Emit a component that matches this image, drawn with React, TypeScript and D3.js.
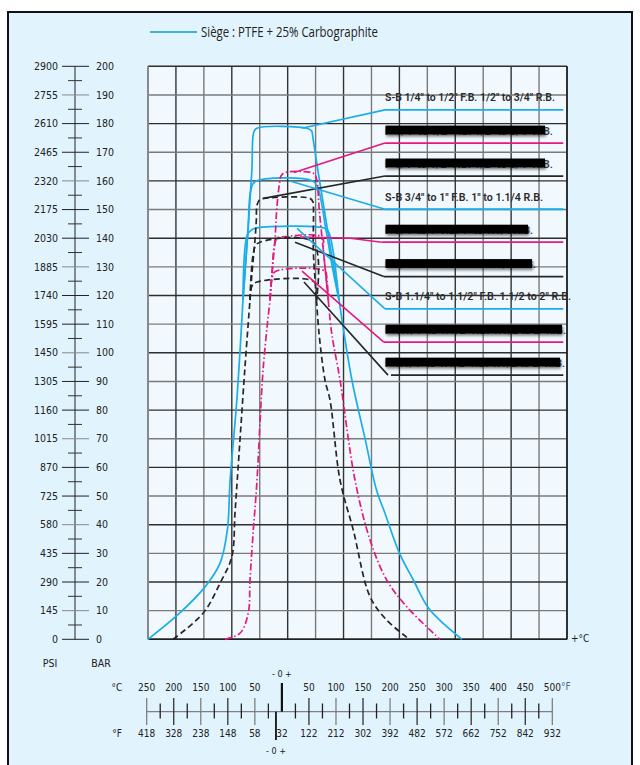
import React from 'react';
import * as d3 from 'd3';

// ---------- DATA ----------
const legendLabel = 'Siège : PTFE + 25% Carbographite';

const barTicks = [0, 10, 20, 30, 40, 50, 60, 70, 80, 90, 100, 110, 120, 130, 140, 150, 160, 170, 180, 190, 200];
const psiLabels = ['0', '145', '290', '435', '580', '725', '870', '1015', '1160', '1305', '1450', '1595', '1740', '1885', '2030', '2175', '2320', '2465', '2610', '2755', '2900'];

const tempGrid = [-250, -200, -150, -100, -50, 0, 50, 100, 150, 200, 250, 300, 350, 400, 450, 500];
const celsiusLabels = ['250', '200', '150', '100', '50', '', '50', '100', '150', '200', '250', '300', '350', '400', '450', '500'];
const fahrenheitLabels = ['418', '328', '238', '148', '58', '32', '122', '212', '302', '392', '482', '572', '662', '752', '842', '932'];
const fahrenheitZeroMark = -11;

// curves: [temperature °C, pressure bar]
const blueLeft = [[-250, 0], [-193, 9.2], [-148, 18.3], [-121, 26.6], [-108, 38.1], [-103, 55.6], [-91, 83.5], [-80, 118.4]];
const blueRight = [[92, 118.4], [115, 90.5], [139, 69.6], [159, 52.1], [174, 44.1], [200, 30.1], [225, 20.7], [252, 10.9], [280, 5.3], [312, 0]];
const blue1Top = [[-71, 142.9], [-64, 163.8], [-61, 176.7], [-56, 178.3], [36, 178.3], [43, 177.4], [45, 175.3], [54, 163.8]];
const blue2Top = [[-71, 142.9], [-66, 156.8], [-58.5, 159.7], [45, 160], [54, 157.6], [68.6, 142.9], [81, 128.9]];
const blue3Top = [[-72.3, 141.1], [-64.4, 142.9], [-60, 143.4], [66.8, 143.4], [74, 141.8], [81, 135.9], [88, 125.4]];

const pinkLeft = [[-112, 0], [-85, 2.2], [-70.5, 9.2], [-67.4, 20.7], [-61.5, 38.1], [-55.4, 53.9], [-43.6, 95.1], [-31.6, 118.4]];
const pinkRight = [[72.7, 118.4], [78.8, 106.9], [93.7, 90.5], [120.5, 55.6], [147.4, 34.7], [177.3, 20.7], [213, 11.4], [272.7, 0]];
const pink1Top = [[-28, 127.8], [-22.7, 139.4], [-19.7, 149.8], [-15, 158.6], [-12, 161.7], [-5, 162.9], [42, 162.9], [49, 162.1], [52.5, 160], [56.6, 149.8], [63.8, 135.9]];
const pink2Top = [[-28, 127.8], [-23.6, 137.6], [-18.2, 140.2], [-12, 140.4], [61.5, 140.4], [63.8, 135.9]];
const pink3Top = [[-27.5, 126.5], [-22, 128.4], [66.8, 128.5], [70.4, 125.4]];

const blackLeft = [[-205, 0], [-151, 9.2], [-121, 19.6], [-100, 28.8], [-94.3, 44.1], [-90.2, 55.6], [-76.4, 95.1], [-67.4, 118.4]];
const blackRight = [[51.6, 118.4], [56.1, 106.9], [66.8, 90.5], [75.8, 83.5], [93.7, 55.6], [117.5, 38.1], [147.4, 14.9], [177.3, 6.7], [216, 0.3]];
const black1Top = [[-64.4, 126.6], [-58.5, 139.4], [-56.1, 146.3], [-54.9, 151.6], [-49.5, 153.5], [-42.4, 153.9], [40, 153.9], [45.4, 152.6], [46.2, 149.8], [45.9, 135.9], [48.5, 127]];
const black2Top = [[-58.5, 137], [-49.5, 138.6], [45.5, 138.6]];
const black3Top = [[-63.5, 123.5], [-55, 124.7], [48, 124.7]];

// size labels
const labelTexts = [
  'S-B 1/4" to 1/2" F.B. 1/2" to 3/4" R.B.',
  'F-1/4" to 1/2" F.B. 1/2" to 3/4" R.B.',
  'F 1/4" to 1/2" F.B. 1/2" to 3/4" R.B.',
  'S-B 3/4" to 1" F.B. 1" to 1.1/4 R.B.',
  'F-3/4" to 1" F.B. 1" to 1.1/4 R.B.',
  'F 3/4" to 1" F.B. 1" to 1.1/4 R.B.',
  'S-B 1.1/4" to 1.1/2" F.B. 1.1/2 to 2" R.B.',
  'F-1.1/4" to 1.1/2" F.B. 1.1/2 to 2" R.B.',
  'F 1.1/4" to 1.1/2" F.B. 1.1/2 to 2" R.B.',
];
const labelHidden = [false, true, true, false, true, true, false, true, true];
const labelColors = ['blue', 'pink', 'black', 'blue', 'pink', 'black', 'blue', 'pink', 'black'];
const connectorStart = [[25.1, 178.4], [11.3, 162.9], [-43.6, 153.9], [4.2, 160], [22, 140.4], [13.1, 138.6], [16.7, 143.4], [25.7, 128.5], [29.2, 124.7]];
const connectorMid = [null, null, null, null, [112, 140], null, null, null, null];
const labelLineLevel = [184.8, 173.2, 161.7, 150.1, 138.6, 126.6, 115.3, 103.7, 92.2];
const labelLineStart = [174.2, 174.2, 174.2, 174.2, 168.3, 172, 174.2, 172, 179.6];
const labelLineEnd = 493.4;
const labelTextEnd = [555, 553, 553, 543, 533, 536, 571, 566, 565];
const hideBarEnd = [0, 545, 545, 0, 528, 532, 0, 562, 560];

// ---------- STYLE ----------
const COLORS: Record<string, string> = { blue: '#1badea', pink: '#e6197f', black: '#262626' };
const W = 640, H = 765;

export default function App() {
  const x = d3.scaleLinear().domain([-250, 500]).range([148, 567]);
  const y = d3.scaleLinear().domain([0, 200]).range([639.3, 66.3]);
  const xs = d3.scaleLinear().domain([-250, 500]).range([146.7, 552.3]);

  const line = d3.line<number[]>().x(d => x(d[0])).y(d => y(d[1])).curve(d3.curveCatmullRom.alpha(0.5));
  const straight = d3.line<number[]>().x(d => x(d[0])).y(d => y(d[1]));

  const last = (a: number[][]) => a[a.length - 1];
  const groups = [
    { c: 'blue', left: blueLeft, right: blueRight, tops: [blue1Top, blue2Top, blue3Top] },
    { c: 'pink', left: pinkLeft, right: pinkRight, tops: [pink1Top, pink2Top, pink3Top] },
    { c: 'black', left: blackLeft, right: blackRight, tops: [black1Top, black2Top, black3Top] },
  ];
  const dash: Record<string, string | undefined> = { blue: undefined, pink: '7,2.5,1.5,2.5', black: '6,3.5' };

  const numFont = "'Liberation Sans Narrow', 'DejaVu Sans Condensed', 'Liberation Sans', sans-serif";
  const labelFont = "Roboto, 'Liberation Sans', sans-serif";
  const minorBar = barTicks.slice(0, -1).map(v => v + 5);
  const minorTemp = tempGrid.slice(0, -1).map(v => v + 25);

  return (
    <div style={{ position: 'absolute', left: 0, top: 0, width: W, height: H, background: '#fff' }}>
      <svg width={W} height={H} viewBox={`0 0 ${W} ${H}`}>
        <defs>
          <filter id="sh" x="-10%" y="-60%" width="120%" height="260%">
            <feGaussianBlur in="SourceAlpha" stdDeviation="1.6" />
            <feOffset dx="1" dy="2" result="b" />
            <feComponentTransfer><feFuncA type="linear" slope="0.55" /></feComponentTransfer>
            <feMerge><feMergeNode /><feMergeNode in="SourceGraphic" /></feMerge>
          </filter>
        </defs>
        <rect x={8} y={12} width={624} height={H} fill="#e1f3fc" stroke="#111" strokeWidth={2} />

        {/* legend */}
        <line x1={150} x2={197} y1={32} y2={32} stroke="#3fb3d6" strokeWidth={2} />
        <text x={201} y={37} fontFamily="'Open Sans', 'Liberation Sans', sans-serif" fontSize={14} fill="#222"
          textLength={177} lengthAdjust="spacingAndGlyphs">{legendLabel}</text>

        {/* plot background */}
        <rect x={x(-250)} y={y(200)} width={x(500) - x(-250)} height={y(0) - y(200)} fill="#f1f9fe" />

        {/* grid */}
        {tempGrid.map((t, i) => (
          <line key={'v' + t} x1={x(t)} x2={x(t)} y1={y(0)} y2={y(200)}
            stroke={i % 2 === 0 ? '#7a7a7a' : '#333'} strokeWidth={1.4} />
        ))}
        {barTicks.map((b, i) => (
          <line key={'h' + b} x1={x(-250)} x2={x(500)} y1={y(b)} y2={y(b)}
            stroke={i % 2 === 0 ? '#2e2e2e' : '#7a7a7a'} strokeWidth={1.4} />
        ))}
        <line x1={x(-250)} x2={x(500)} y1={y(0)} y2={y(0)} stroke="#222" strokeWidth={1.6} />
        <line x1={x(500)} x2={x(500)} y1={y(0)} y2={y(200)} stroke="#222" strokeWidth={1.6} />
        <line x1={x(-250)} x2={x(-250)} y1={y(0)} y2={y(200)} stroke="#888" strokeWidth={2} />
        <text x={571} y={642} fontFamily={numFont} fontSize={10} fill="#222">+°C</text>

        {/* curves: shared envelopes drawn once, distinct upper parts per size */}
        {groups.map(g => (
          <g key={g.c} fill="none" stroke={COLORS[g.c]} strokeWidth={1.7} strokeDasharray={dash[g.c]} strokeLinejoin="round">
            <path d={line(g.left) || ''} />
            <path d={line(g.right) || ''} />
            {g.tops.map((t, i) => (
              <path key={i} d={line([last(g.left), ...t, g.right[0]]) || ''} />
            ))}
          </g>
        ))}

        {/* connectors and label lines */}
        {labelTexts.map((txt, i) => {
          const col = COLORS[labelColors[i]];
          const pts: number[][] = [connectorStart[i]];
          if (connectorMid[i]) pts.push(connectorMid[i] as number[]);
          pts.push([labelLineStart[i], labelLineLevel[i]]);
          const ly = y(labelLineLevel[i]);
          const x0 = x(labelLineStart[i]) + (i === 8 ? 3 : 0);
          return (
            <g key={'l' + i}>
              <path d={straight(pts) || ''} fill="none" stroke={col} strokeWidth={1.6} />
              <line x1={x0} x2={x(labelLineEnd)} y1={ly} y2={ly} stroke={col} strokeWidth={1.8} />
              <text x={385} y={ly - 8.5} fontFamily={labelFont} fontSize={11.5} fontWeight={600}
                fill={labelHidden[i] ? '#444' : '#2a2a2a'} textLength={labelTextEnd[i] - 385} lengthAdjust="spacingAndGlyphs">{txt}</text>
              {labelHidden[i] && (
                <rect x={385.5} y={ly - 17.5} width={hideBarEnd[i] - 385.5} height={8.8} fill="#000" filter="url(#sh)" />
              )}
            </g>
          );
        })}

        {/* left PSI / BAR axis */}
        <line x1={75} x2={75} y1={y(0)} y2={y(200)} stroke="#222" strokeWidth={1} />
        {barTicks.map((b, i) => (
          <g key={'t' + b}>
            <line x1={62} x2={89} y1={y(b)} y2={y(b)} stroke={i % 3 === 1 ? '#888' : '#222'} strokeWidth={1} />
            <text x={58} y={y(b)} dy="0.35em" textAnchor="end" fontFamily={numFont} fontSize={10.5} fill="#222">{psiLabels[i]}</text>
            <text x={96} y={y(b)} dy="0.35em" fontFamily={numFont} fontSize={10.5} fill="#222">{b}</text>
          </g>
        ))}
        {minorBar.map(b => (
          <line key={'m' + b} x1={68} x2={82} y1={y(b)} y2={y(b)} stroke="#333" strokeWidth={1} />
        ))}
        <text x={50} y={667} textAnchor="middle" fontFamily={numFont} fontSize={10.5} fill="#222">PSI</text>
        <text x={101} y={667} textAnchor="middle" fontFamily={numFont} fontSize={10.5} fill="#222">BAR</text>

        {/* bottom temperature conversion scale */}
        <text x={117} y={690.5} textAnchor="middle" fontFamily={numFont} fontSize={10} fill="#222">°C</text>
        <text x={117} y={736.5} textAnchor="middle" fontFamily={numFont} fontSize={10} fill="#222">°F</text>
        <line x1={xs(-250)} x2={xs(500)} y1={711.7} y2={711.7} stroke="#666" strokeWidth={1} />
        {tempGrid.filter(t => t !== 0).map((t, i) => (
          <line key={'bt' + t} x1={xs(t)} x2={xs(t)} y1={698} y2={725} stroke={i % 2 ? '#222' : '#777'} strokeWidth={1.2} />
        ))}
        {minorTemp.map(t => (
          <line key={'bm' + t} x1={xs(t)} x2={xs(t)} y1={703.5} y2={718.5} stroke="#222" strokeWidth={1.3} />
        ))}
        <line x1={xs(0)} x2={xs(0)} y1={683} y2={711.7} stroke="#111" strokeWidth={2.2} />
        <line x1={xs(fahrenheitZeroMark)} x2={xs(fahrenheitZeroMark)} y1={711.7} y2={740} stroke="#111" strokeWidth={1.8} />
        {tempGrid.map((t, i) => (
          <g key={'bl' + t}>
            {celsiusLabels[i] && (
              <text x={xs(t)} y={690.5} textAnchor="middle" fontFamily={numFont} fontSize={10} fill="#222">{celsiusLabels[i]}</text>
            )}
            <text x={xs(t)} y={737} textAnchor="middle" fontFamily={numFont} fontSize={10} fill="#222">{fahrenheitLabels[i]}</text>
          </g>
        ))}
        <text x={561} y={690} fontFamily={numFont} fontSize={10} fill="#4a6b8a">°F</text>
        <text x={xs(0)} y={677} textAnchor="middle" fontFamily={numFont} fontSize={9} fill="#222">- 0 +</text>
        <text x={xs(fahrenheitZeroMark)} y={754} textAnchor="middle" fontFamily={numFont} fontSize={9} fill="#222">- 0 +</text>
      </svg>
    </div>
  );
}
